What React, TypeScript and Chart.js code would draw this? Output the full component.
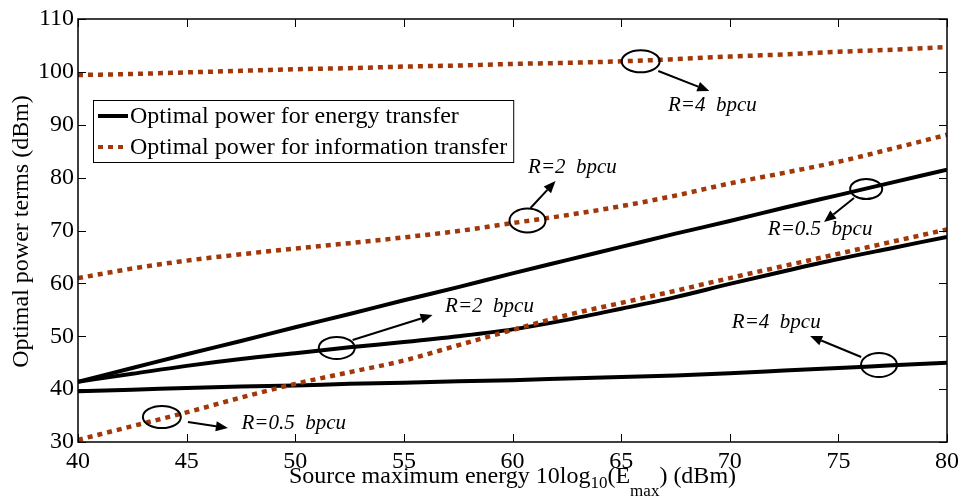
import React, { useEffect, useRef } from "react";
import { Chart, registerables } from "chart.js";

Chart.register(...registerables);

// ---- data ----
const xValues = [40, 42.5, 45, 47.5, 50, 52.5, 55, 57.5, 60, 62.5, 65, 67.5, 70, 72.5, 75, 77.5, 80];

const energyR05 = [41.4, 44.0, 46.6, 49.1, 51.7, 54.2, 56.8, 59.3, 61.9, 64.4, 66.9, 69.4, 71.8, 74.3, 76.7, 79.1, 81.5];
const energyR2 = [41.4, 42.9, 44.4, 45.7, 46.8, 47.9, 48.9, 50.0, 51.3, 53.1, 55.2, 57.4, 59.9, 62.3, 64.6, 66.7, 68.8];
const energyR4 = [39.6, 39.9, 40.2, 40.5, 40.7, 41.0, 41.2, 41.5, 41.7, 42.0, 42.3, 42.6, 43.0, 43.5, 44.0, 44.5, 45.0];

const infoR05 = [30.4, 33.0, 35.6, 38.4, 41.0, 43.2, 45.4, 48.3, 51.2, 54.0, 56.3, 58.6, 61.0, 63.3, 65.6, 67.9, 70.2];
const infoR2 = [61.0, 62.8, 64.3, 65.5, 66.6, 67.6, 68.7, 69.9, 71.4, 72.9, 74.6, 76.6, 78.9, 80.9, 83.0, 85.5, 88.1];
const infoR4 = [99.4, 99.6, 99.9, 100.2, 100.5, 100.7, 101.0, 101.2, 101.5, 101.7, 102.0, 102.4, 102.9, 103.3, 103.8, 104.2, 104.7];

const legendLabels = ["Optimal power for energy transfer", "Optimal power for information transfer"];

const xMin = 40;
const xMax = 80;
const xStep = 5;
const yMin = 30;
const yMax = 110;
const yStep = 10;

// annotation anchors in data coordinates: ellipse centre, arrow start/end, label centre
const annotationTexts = ["R=4  bpcu", "R=2  bpcu", "R=0.5  bpcu", "R=4  bpcu", "R=2  bpcu", "R=0.5  bpcu"];
const ellipseX = [65.9, 60.69, 76.28, 76.87, 51.91, 43.86];
const ellipseY = [102.0, 71.9, 77.85, 44.56, 47.78, 34.73];
const arrowFromX = [66.71, 60.83, 75.72, 76.05, 52.64, 45.06];
const arrowFromY = [100.17, 74.26, 76.15, 46.08, 49.29, 33.78];
const arrowToX = [69.06, 61.98, 74.34, 73.7, 56.32, 46.9];
const arrowToY = [96.38, 79.36, 71.61, 50.05, 54.02, 32.65];
const labelX = [69.2, 62.76, 74.16, 72.14, 58.94, 49.93];
const labelY = [93.73, 82.01, 70.1, 52.69, 55.72, 33.59];

// ---- styles ----
const SERIF = "'Liberation Serif', 'Times New Roman', serif";
const SOLID = "#000000";
const DOTTED = "#a0380a";
const FONT_SIZE = 24;
const ellipseRX = [19, 18, 16, 18, 18, 19];
const ellipseRY = [11, 12, 10, 12, 11, 11];

function toPoints(ys: number[]) {
  return xValues.map((x, i) => ({ x, y: ys[i] }));
}

const framePlugin = {
  id: "frameAndDecor",
  afterDatasetsDraw(chart: any) {
    const ctx = chart.ctx as CanvasRenderingContext2D;
    const xs = chart.scales.x;
    const ys = chart.scales.y;
    const a = chart.chartArea;
    ctx.save();

    // frame
    ctx.strokeStyle = "#000";
    ctx.lineWidth = 1.5;
    ctx.strokeRect(a.left, a.top, a.right - a.left, a.bottom - a.top);

    // inward ticks
    ctx.lineWidth = 1;
    const tl = 8;
    for (let v = xMin; v <= xMax; v += xStep) {
      const p = Math.round(xs.getPixelForValue(v)) + 0.5;
      ctx.beginPath();
      ctx.moveTo(p, a.bottom);
      ctx.lineTo(p, a.bottom - tl);
      ctx.moveTo(p, a.top);
      ctx.lineTo(p, a.top + tl);
      ctx.stroke();
    }
    for (let v = yMin; v <= yMax; v += yStep) {
      const p = Math.round(ys.getPixelForValue(v)) + 0.5;
      ctx.beginPath();
      ctx.moveTo(a.left, p);
      ctx.lineTo(a.left + tl, p);
      ctx.moveTo(a.right, p);
      ctx.lineTo(a.right - tl, p);
      ctx.stroke();
    }

    // annotations
    for (let i = 0; i < annotationTexts.length; i++) {
      const ex = xs.getPixelForValue(ellipseX[i]);
      const ey = ys.getPixelForValue(ellipseY[i]);
      ctx.strokeStyle = "#000";
      ctx.lineWidth = 2;
      ctx.beginPath();
      ctx.ellipse(ex, ey, ellipseRX[i], ellipseRY[i], 0, 0, Math.PI * 2);
      ctx.stroke();

      const x0 = xs.getPixelForValue(arrowFromX[i]);
      const y0 = ys.getPixelForValue(arrowFromY[i]);
      const x1 = xs.getPixelForValue(arrowToX[i]);
      const y1 = ys.getPixelForValue(arrowToY[i]);
      const ang = Math.atan2(y1 - y0, x1 - x0);
      const hl = 12;
      const hw = 5;
      const bx = x1 - hl * Math.cos(ang);
      const by = y1 - hl * Math.sin(ang);
      ctx.beginPath();
      ctx.moveTo(x0, y0);
      ctx.lineTo(bx, by);
      ctx.stroke();
      ctx.fillStyle = "#000";
      ctx.beginPath();
      ctx.moveTo(x1, y1);
      ctx.lineTo(bx + hw * Math.sin(ang), by - hw * Math.cos(ang));
      ctx.lineTo(bx - hw * Math.sin(ang), by + hw * Math.cos(ang));
      ctx.closePath();
      ctx.fill();

      ctx.font = `italic 21px ${SERIF}`;
      ctx.textAlign = "center";
      ctx.textBaseline = "middle";
      ctx.fillText(annotationTexts[i], xs.getPixelForValue(labelX[i]), ys.getPixelForValue(labelY[i]));
    }

    // legend
    ctx.font = `${FONT_SIZE}px ${SERIF}`;
    const tw = Math.max(...legendLabels.map((t) => ctx.measureText(t).width));
    const lx = a.left + 15;
    const ly = a.top + 81;
    const lw = 37 + tw + 6;
    const lh = 62;
    ctx.fillStyle = "#fff";
    ctx.fillRect(lx, ly, lw, lh);
    ctx.strokeStyle = "#000";
    ctx.lineWidth = 1;
    ctx.strokeRect(lx + 0.5, ly + 0.5, lw, lh);
    const rows = [ly + 16, ly + 47];
    // solid sample
    ctx.lineWidth = 4;
    ctx.strokeStyle = SOLID;
    ctx.beginPath();
    ctx.moveTo(lx + 5, rows[0]);
    ctx.lineTo(lx + 35, rows[0]);
    ctx.stroke();
    // dotted sample
    ctx.strokeStyle = DOTTED;
    ctx.setLineDash([5, 5]);
    ctx.beginPath();
    ctx.moveTo(lx + 5, rows[1]);
    ctx.lineTo(lx + 35, rows[1]);
    ctx.stroke();
    ctx.setLineDash([]);
    ctx.fillStyle = "#000";
    ctx.textAlign = "left";
    ctx.textBaseline = "middle";
    ctx.fillText(legendLabels[0], lx + 37, rows[0] + 1);
    ctx.fillText(legendLabels[1], lx + 37, rows[1] + 1);

    // y title
    ctx.save();
    ctx.translate(22, (a.top + a.bottom) / 2 + 1);
    ctx.rotate(-Math.PI / 2);
    ctx.font = `${FONT_SIZE}px ${SERIF}`;
    ctx.textAlign = "center";
    ctx.textBaseline = "middle";
    ctx.fillText("Optimal power terms (dBm)", 0, 0);
    ctx.restore();

    // x title with subscripts
    const parts: [string, boolean, number][] = [
      ["Source maximum energy 10log", false, 0],
      ["10", true, 5],
      ["(E", false, 0],
      ["max", true, 13],
      [") (dBm)", false, 0],
    ];
    const mainFont = `${FONT_SIZE}px ${SERIF}`;
    const subFont = `17px ${SERIF}`;
    let total = 0;
    for (const [t, sub] of parts) {
      ctx.font = sub ? subFont : mainFont;
      total += ctx.measureText(t).width;
    }
    let cx = (a.left + a.right) / 2 - total / 2;
    const base = a.bottom + 41;
    ctx.textAlign = "left";
    ctx.textBaseline = "alphabetic";
    for (const [t, sub, off] of parts) {
      ctx.font = sub ? subFont : mainFont;
      ctx.fillText(t, cx, base + off);
      cx += ctx.measureText(t).width;
    }

    ctx.restore();
  },
};

export default function App() {
  const ref = useRef<HTMLCanvasElement | null>(null);

  useEffect(() => {
    if (!ref.current) return;
    const solid = (label: string, ys: number[]) => ({
      label,
      data: toPoints(ys),
      borderColor: SOLID,
      borderWidth: 4,
      pointRadius: 0,
      fill: false,
      cubicInterpolationMode: "monotone" as const,
    });
    const dotted = (label: string, ys: number[]) => ({
      label,
      data: toPoints(ys),
      borderColor: DOTTED,
      borderWidth: 4.5,
      borderDash: [5, 5],
      pointRadius: 0,
      fill: false,
      cubicInterpolationMode: "monotone" as const,
    });
    const chart = new Chart(ref.current, {
      type: "line",
      data: {
        datasets: [
          dotted(legendLabels[1] + " R=0.5", infoR05),
          dotted(legendLabels[1] + " R=2", infoR2),
          dotted(legendLabels[1] + " R=4", infoR4),
          solid(legendLabels[0] + " R=0.5", energyR05),
          solid(legendLabels[0] + " R=2", energyR2),
          solid(legendLabels[0] + " R=4", energyR4),
        ],
      },
      options: {
        animation: false,
        responsive: false,
        devicePixelRatio: 1,
        layout: { padding: { left: 0, top: 19, right: 16, bottom: 0 } },
        plugins: { legend: { display: false }, tooltip: { enabled: false }, title: { display: false } },
        scales: {
          x: {
            type: "linear",
            min: xMin,
            max: xMax,
            grid: { display: false, drawTicks: false },
            border: { display: false },
            ticks: {
              stepSize: xStep,
              color: "#000",
              font: { family: SERIF, size: FONT_SIZE },
              padding: 5,
              maxRotation: 0,
            },
            afterFit: (s: any) => {
              s.height = 58;
            },
          },
          y: {
            type: "linear",
            min: yMin,
            max: yMax,
            grid: { display: false, drawTicks: false },
            border: { display: false },
            ticks: {
              stepSize: yStep,
              color: "#000",
              font: { family: SERIF, size: FONT_SIZE },
              padding: 4,
            },
            afterFit: (s: any) => {
              s.width = 78;
            },
          },
        },
      },
      plugins: [framePlugin],
    });
    return () => chart.destroy();
  }, []);

  return (
    <div style={{ position: "absolute", left: 0, top: 0, width: 964, height: 500, background: "#fff" }}>
      <canvas ref={ref} width={964} height={500} style={{ width: 964, height: 500, display: "block" }} />
    </div>
  );
}
